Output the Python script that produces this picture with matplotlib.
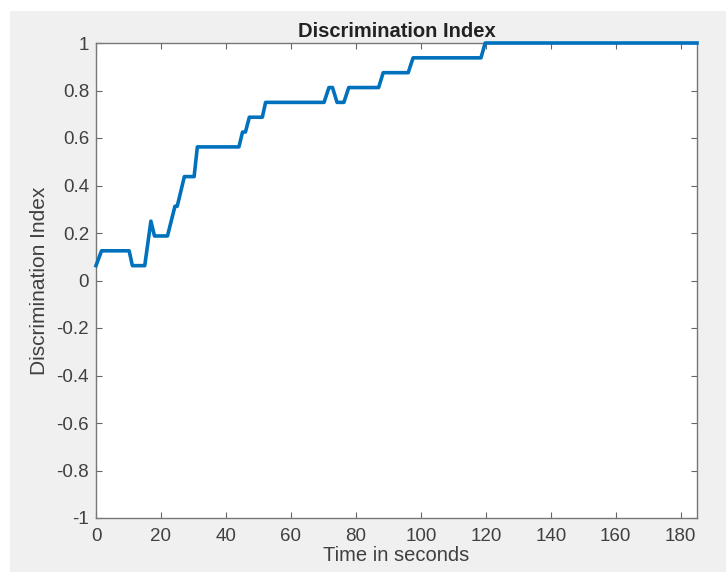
import matplotlib.pyplot as plt
from matplotlib.patches import Rectangle

# step corners (time in s, index value)
time_s = [0, 1.7, 10.2, 11.2, 15.0, 16.9, 18.0, 22.0, 24.3, 25.0, 27.2, 30.2,
          31.2, 44.0, 45.1, 46.0, 47.2, 51.2, 52.2, 70.2, 71.7, 72.8, 74.2,
          76.3, 77.8, 87.0, 88.4, 96.1, 97.6, 118.5, 119.8, 185]
disc_index = [0.0625, 0.125, 0.125, 0.0625, 0.0625, 0.25, 0.1875, 0.1875,
              0.3125, 0.3125, 0.4375, 0.4375, 0.5625, 0.5625, 0.625, 0.625,
              0.6875, 0.6875, 0.75, 0.75, 0.8125, 0.8125, 0.75, 0.75, 0.8125,
              0.8125, 0.875, 0.875, 0.9375, 0.9375, 1.0, 1.0]

x_ticks = list(range(0, 181, 20))
y_ticks = [-1, -0.8, -0.6, -0.4, -0.2, 0, 0.2, 0.4, 0.6, 0.8, 1]

plt.rcParams['font.family'] = ['Liberation Sans', 'DejaVu Sans']
txt = '#404040'
W, H = 7.26, 5.72

fig = plt.figure(figsize=(W, H), dpi=100, facecolor='white')
# gray MATLAB figure area, white margin on top and left
fig.patches.append(Rectangle((10 / 726, 0), 1, 1 - 11 / 572,
                             transform=fig.transFigure, facecolor='#f0f0f0',
                             edgecolor='none', zorder=-10))

ax = fig.add_axes([96 / 726, 1 - 518 / 572, 601 / 726, 475 / 572])
ax.plot(time_s, disc_index, color='#0072BD', linewidth=2.6, clip_on=False,
        zorder=3, solid_joinstyle='round')

ax.set_xlim(0, 185)
ax.set_ylim(-1, 1)
ax.set_xticks(x_ticks)
ax.set_yticks(y_ticks)
ax.set_yticklabels(['%g' % v for v in y_ticks])
ax.tick_params(direction='in', top=True, right=True, length=4, width=0.8,
               color='#666666', labelcolor=txt, labelsize=13.5, pad=5)
ax.tick_params(axis='x', pad=7)
for s in ax.spines.values():
    s.set_color('#777777')
    s.set_linewidth(1.0)

ax.set_title('Discrimination Index', fontsize=14.5, fontweight='bold',
             color='#222222', pad=4)
ax.set_xlabel('Time in seconds', fontsize=14.5, color=txt, labelpad=1)
ax.set_ylabel('Discrimination Index', fontsize=15, color=txt, labelpad=5)

fig.savefig('out.png', dpi=100, facecolor=fig.get_facecolor())
